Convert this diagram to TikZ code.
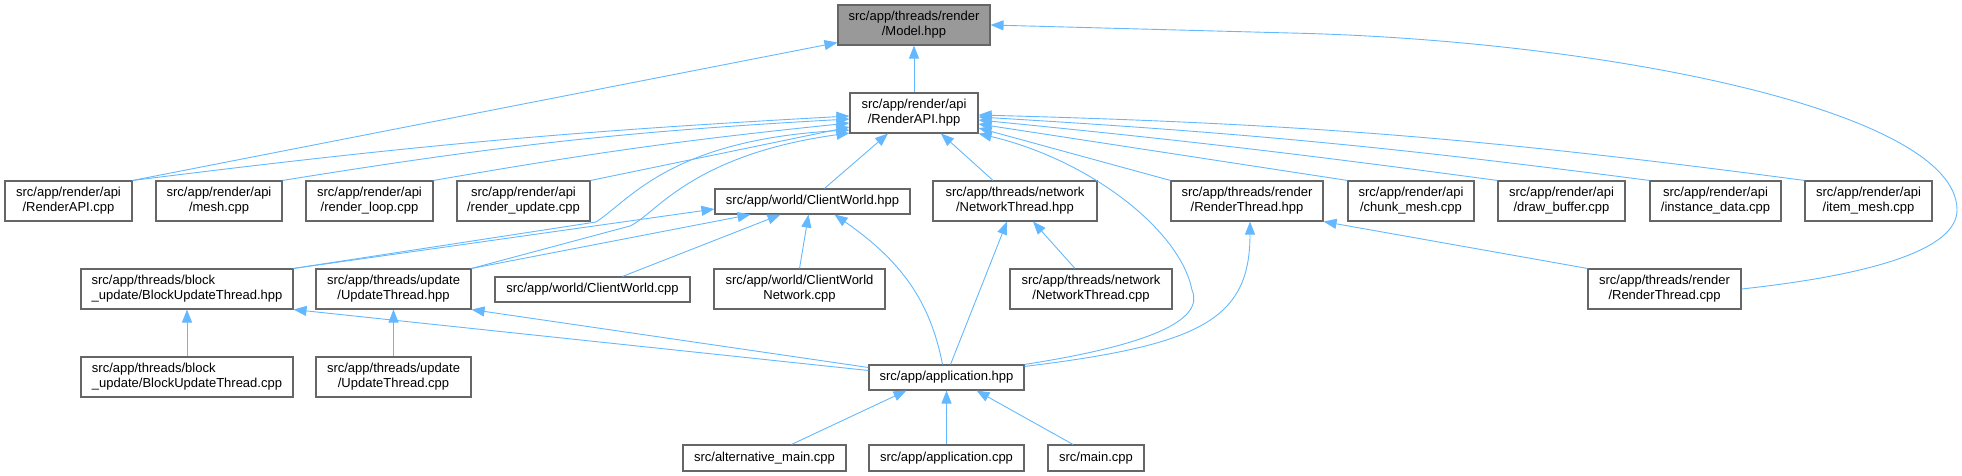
\documentclass[tikz,border=0pt]{standalone}
\usepackage{fontspec}
\setmainfont{Liberation Sans}
\usepackage{tikz}
\usetikzlibrary{arrows.meta}
\definecolor{edgeblue}{HTML}{63B8FF}
\definecolor{boxgray}{HTML}{666666}
\definecolor{focusgray}{HTML}{999999}
\tikzset{
  file/.style={draw=boxgray, line width=1.1pt, fill=white, inner sep=0pt,
    minimum height=40pt, align=center, font=\fontsize{13}{15}\selectfont},
  oneline/.style={file, minimum height=25pt},
  inc/.style={draw=edgeblue, line width=0.9pt, -{Triangle[length=13pt,width=10pt]}},
}
\begin{document}
\begin{tikzpicture}[x=1pt,y=-1pt]
  \useasboundingbox (0,0) rectangle (1962,476);
  % top
  \node[file, fill=focusgray, minimum width=152pt] (M) at (914,25) {src/app/threads/render\\/Model.hpp};
  \node[file, minimum width=128pt] (RH) at (914,113) {src/app/render/api\\/RenderAPI.hpp};
  % second row
  \node[file, minimum width=127pt] (RC) at (68.5,201) {src/app/render/api\\/RenderAPI.cpp};
  \node[file, minimum width=126pt] (ME) at (219,201) {src/app/render/api\\/mesh.cpp};
  \node[file, minimum width=127pt] (RL) at (369.5,201) {src/app/render/api\\/render\_loop.cpp};
  \node[file, minimum width=133pt] (RU) at (523.5,201) {src/app/render/api\\/render\_update.cpp};
  \node[oneline, minimum width=195pt] (CWH) at (812.5,201.5) {src/app/world/ClientWorld.hpp};
  \node[file, minimum width=164pt] (NTH) at (1015,201) {src/app/threads/network\\/NetworkThread.hpp};
  \node[file, minimum width=152pt] (RTH) at (1247,201) {src/app/threads/render\\/RenderThread.hpp};
  \node[file, minimum width=126pt] (CM) at (1411,201) {src/app/render/api\\/chunk\_mesh.cpp};
  \node[file, minimum width=127pt] (DB) at (1561.5,201) {src/app/render/api\\/draw\_buffer.cpp};
  \node[file, minimum width=131pt] (ID) at (1715.5,201) {src/app/render/api\\/instance\_data.cpp};
  \node[file, minimum width=127pt] (IM) at (1868.5,201) {src/app/render/api\\/item\_mesh.cpp};
  % third row
  \node[file, align=left, minimum width=212pt] (BUH) at (187,289) {src/app/threads/block\\\_update/BlockUpdateThread.hpp};
  \node[file, minimum width=155pt] (UH) at (393.5,289) {src/app/threads/update\\/UpdateThread.hpp};
  \node[oneline, minimum width=195pt] (CWC) at (592.5,289.5) {src/app/world/ClientWorld.cpp};
  \node[file, minimum width=171pt] (CWN) at (799.5,289) {src/app/world/ClientWorld\\Network.cpp};
  \node[file, minimum width=162pt] (NTC) at (1091,289) {src/app/threads/network\\/NetworkThread.cpp};
  \node[file, minimum width=153pt] (RTC) at (1664.5,289) {src/app/threads/render\\/RenderThread.cpp};
  % fourth row
  \node[file, align=left, minimum width=212pt] (BUC) at (187,377) {src/app/threads/block\\\_update/BlockUpdateThread.cpp};
  \node[file, minimum width=155pt] (UC) at (393.5,377) {src/app/threads/update\\/UpdateThread.cpp};
  \node[oneline, minimum width=155pt] (AH) at (946.5,377.5) {src/app/application.hpp};
  % bottom
  \node[oneline, minimum height=26pt, minimum width=163pt] (AM) at (764.5,458) {src/alternative\_main.cpp};
  \node[oneline, minimum height=26pt, minimum width=155pt] (AC) at (946.5,458) {src/app/application.cpp};
  \node[oneline, minimum height=26pt, minimum width=96pt] (MC) at (1096,458) {src/main.cpp};

  % includes of Model.hpp
  \draw[inc] (RH.north) -- (M.south);
  \draw[inc] (RC.north east) -- ([yshift=3pt]M.south west);
  \draw[inc] (RTC.east) .. controls (1870,275) and (1957,250) .. (1957,210)
    .. controls (1957,110) and (1600,40) .. (1290,33) -- (M.east);
  % includes of RenderAPI.hpp
  \draw[inc] (RC.north east) to[bend left=2] ([yshift=-3pt]RH.west);
  \draw[inc] (ME.north east) to[bend left=3] ([yshift=-6pt]RH.west);
  \draw[inc] (RL.north east) to[bend left=2] ([yshift=-10pt]RH.west);
  \draw[inc] (RU.north east) -- ([yshift=-14pt]RH.west);
  \draw[inc] (BUH.north east) -- (596,222) .. controls (630,200) and (670,140) .. ([yshift=-17pt]RH.west);
  \draw[inc] (UH.north east) -- (630,226) .. controls (655,215) and (690,155) .. ([yshift=-20pt]RH.west);
  \draw[inc] ([xshift=12pt]CWH.north) -- ([xshift=-26pt]RH.south);
  \draw[inc] ([xshift=-22pt]NTH.north) -- ([xshift=27pt]RH.south);
  \draw[inc] (AH.north east) .. controls (1150,345) and (1205,320) .. (1192,290)
    .. controls (1180,230) and (1090,160) .. (RH.south east);
  \draw[inc] (RTH.north west) -- ([yshift=-15pt]RH.east);
  \draw[inc] (CM.north west) -- ([yshift=-11pt]RH.east);
  \draw[inc] (DB.north west) to[bend right=1] ([yshift=-7pt]RH.east);
  \draw[inc] (ID.north west) to[bend right=2] ([yshift=-4pt]RH.east);
  \draw[inc] (IM.north west) to[bend right=3] ([yshift=-2pt]RH.east);
  % includes of ClientWorld.hpp
  \draw[inc] (BUH.north east) -- ([yshift=-7.5pt]CWH.west);
  \draw[inc] (UH.north east) -- ([xshift=-62pt]CWH.south);
  \draw[inc] ([xshift=30pt]CWC.north) -- ([xshift=-32pt]CWH.south);
  \draw[inc] (CWN.north) -- ([xshift=-4pt]CWH.south);
  \draw[inc] ([xshift=-4pt]AH.north) .. controls (930,300) and (900,260) .. ([xshift=22pt]CWH.south);
  % threads
  \draw[inc] ([xshift=4pt]AH.north) -- ([xshift=-8pt]NTH.south);
  \draw[inc] ([xshift=-16pt]NTC.north) -- ([xshift=18pt]NTH.south);
  \draw[inc] ([yshift=-2pt]AH.north east) .. controls (1200,345) and (1250,320) .. ([xshift=3pt]RTH.south);
  \draw[inc] (RTC.north west) -- (RTH.south east);
  \draw[inc] (BUC.north) -- (BUH.south);
  \draw[inc] (UC.north) -- (UH.south);
  \draw[inc] ([yshift=7pt]AH.west) -- (BUH.south east);
  \draw[inc] ([yshift=10pt]AH.west) -- (UH.south east);
  % includes of application.hpp
  \draw[inc] ([xshift=27pt]AM.north) -- ([xshift=-40pt]AH.south);
  \draw[inc] (AC.north) -- (AH.south);
  \draw[inc] ([xshift=-23pt]MC.north) -- ([xshift=30pt]AH.south);
\end{tikzpicture}
\end{document}
